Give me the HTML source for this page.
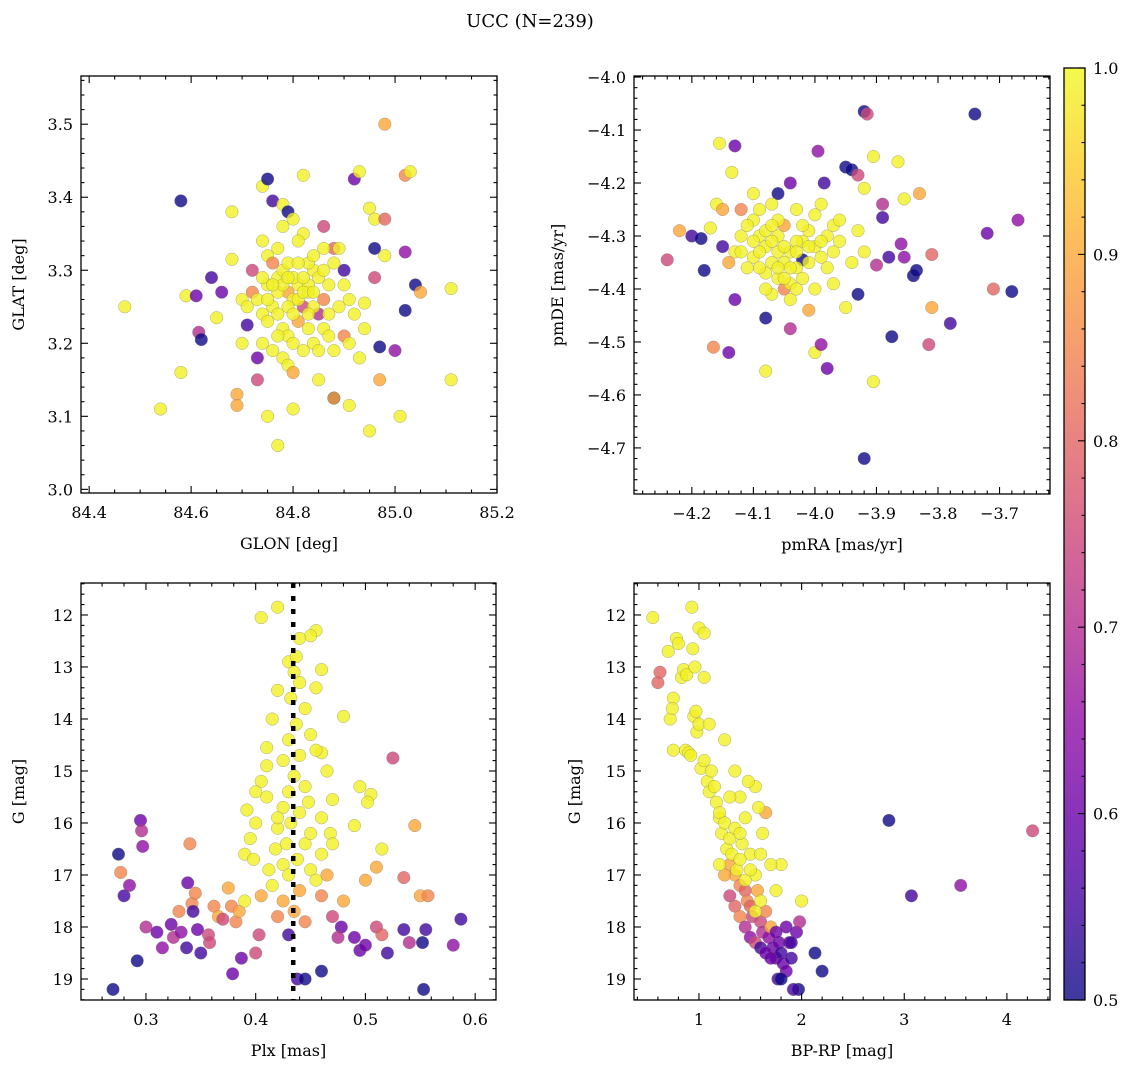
<!DOCTYPE html>
<html><head><meta charset="utf-8">
<style>
html,body{margin:0;padding:0;background:#fff;}
svg{display:block;font-family:"DejaVu Serif","Liberation Serif",serif;}
</style></head>
<body>
<svg id="fig" width="1136" height="1068" viewBox="0 0 1136 1068" xmlns="http://www.w3.org/2000/svg">
<text x="530" y="27" font-size="18" text-anchor="middle">UCC (N=239)</text>
</svg>
<script>
// Panel 1: GLON, GLAT, membership probability
const glonGlat = [
[84.47,3.25,0.99],[84.54,3.11,0.99],[84.58,3.395,0.5],[84.58,3.16,0.99],[84.59,3.265,0.99],[84.61,3.265,0.6],[84.615,3.215,0.7],[84.62,3.205,0.5],[84.64,3.29,0.55],[84.65,3.235,0.99],[84.66,3.27,0.6],[84.68,3.38,0.99],[84.68,3.315,0.99],[84.69,3.13,0.9],[84.69,3.115,0.9],[84.7,3.2,0.99],[84.71,3.225,0.55],[84.72,3.3,0.75],[84.73,3.15,0.75],[84.74,3.415,0.99],[84.75,3.425,0.5],[84.76,3.395,0.55],[84.75,3.1,0.99],[84.77,3.06,0.99],[84.78,3.39,0.99],[84.79,3.38,0.5],[84.8,3.11,0.99],[84.82,3.43,0.99],[84.86,3.36,0.75],[84.88,3.33,0.8],[84.88,3.125,0.5],[84.88,3.125,0.9],[84.91,3.115,0.99],[84.92,3.425,0.6],[84.93,3.435,0.99],[84.95,3.385,0.99],[84.96,3.37,0.99],[84.96,3.33,0.5],[84.96,3.29,0.75],[84.97,3.195,0.5],[84.98,3.5,0.9],[84.98,3.37,0.8],[84.98,3.32,0.99],[84.97,3.15,0.9],[84.95,3.08,0.99],[85.0,3.19,0.65],[85.02,3.325,0.65],[85.02,3.43,0.85],[85.03,3.435,0.99],[85.02,3.245,0.5],[85.04,3.28,0.5],[85.05,3.27,0.9],[85.01,3.1,0.99],[85.11,3.275,0.99],[85.11,3.15,0.99],[84.9,3.3,0.55],[84.91,3.26,0.99],[84.93,3.18,0.99],[84.94,3.22,0.99],[84.94,3.255,0.99],
[84.74,3.34,0.99],[84.75,3.32,0.99],[84.76,3.31,0.85],[84.77,3.29,0.99],[84.78,3.3,0.99],[84.79,3.27,0.9],[84.8,3.26,0.99],[84.81,3.28,0.99],[84.82,3.25,0.75],[84.83,3.27,0.99],[84.84,3.3,0.99],[84.85,3.29,0.99],[84.86,3.26,0.85],[84.87,3.28,0.99],[84.88,3.31,0.99],[84.89,3.33,0.99],[84.76,3.25,0.99],[84.77,3.24,0.99],[84.78,3.22,0.99],[84.79,3.21,0.99],[84.8,3.2,0.99],[84.81,3.23,0.9],[84.83,3.22,0.99],[84.84,3.2,0.99],[84.85,3.24,0.7],[84.87,3.24,0.99],[84.89,3.25,0.99],[84.9,3.28,0.99],[84.72,3.27,0.85],[84.73,3.26,0.99],[84.74,3.24,0.99],[84.75,3.28,0.99],[84.76,3.19,0.99],[84.78,3.18,0.99],[84.79,3.17,0.99],[84.8,3.16,0.9],[84.82,3.35,0.99],[84.81,3.34,0.99],[84.83,3.31,0.99],[84.84,3.32,0.99],[84.86,3.33,0.99],[84.78,3.36,0.99],[84.8,3.37,0.99],[84.77,3.33,0.99],[84.74,3.2,0.99],[84.73,3.18,0.6],[84.82,3.19,0.99],[84.85,3.19,0.99],[84.88,3.19,0.99],[84.9,3.21,0.85],[84.86,3.22,0.99],[84.84,3.25,0.99],[84.8,3.29,0.99],[84.79,3.31,0.99],[84.83,3.28,0.99],[84.7,3.26,0.99],[84.71,3.25,0.99],[84.92,3.24,0.99],[84.91,3.2,0.99],[84.85,3.15,0.99],
[84.77,3.27,0.99],[84.79,3.25,0.99],[84.81,3.26,0.99],[84.82,3.29,0.99],[84.78,3.28,0.99],[84.76,3.28,0.99],[84.8,3.24,0.99],[84.82,3.27,0.99],[84.75,3.26,0.99],[84.84,3.27,0.99],[84.79,3.29,0.99],[84.81,3.31,0.99],[84.74,3.29,0.99],[84.86,3.3,0.99],[84.77,3.21,0.99],[84.83,3.24,0.99],[84.87,3.21,0.99],[84.75,3.23,0.99]
];
// Panel 2: pmRA, pmDE, probability
const pmRaDe = [
[-4.24,-4.345,0.75],[-4.22,-4.29,0.9],[-4.2,-4.3,0.55],[-4.185,-4.305,0.5],[-4.18,-4.365,0.5],[-4.17,-4.285,0.99],[-4.165,-4.51,0.85],[-4.16,-4.24,0.99],[-4.155,-4.125,0.99],[-4.15,-4.32,0.55],[-4.14,-4.52,0.6],[-4.13,-4.13,0.6],[-4.135,-4.18,0.99],[-4.13,-4.42,0.6],[-4.1,-4.22,0.99],[-4.08,-4.455,0.5],[-4.06,-4.22,0.5],[-4.08,-4.555,0.99],[-4.04,-4.2,0.6],[-4.04,-4.475,0.7],[-4.02,-4.345,0.5],[-4.01,-4.44,0.9],[-4.0,-4.52,0.99],[-3.995,-4.14,0.65],[-3.99,-4.505,0.65],[-3.985,-4.2,0.55],[-3.98,-4.55,0.6],[-3.95,-4.17,0.5],[-3.94,-4.175,0.5],[-3.93,-4.185,0.75],[-3.93,-4.41,0.5],[-3.92,-4.065,0.5],[-3.915,-4.07,0.75],[-3.92,-4.21,0.99],[-3.92,-4.72,0.5],[-3.905,-4.15,0.99],[-3.905,-4.575,0.99],[-3.9,-4.355,0.7],[-3.89,-4.265,0.55],[-3.89,-4.24,0.7],[-3.88,-4.34,0.55],[-3.875,-4.49,0.5],[-3.865,-4.16,0.99],[-3.86,-4.315,0.65],[-3.855,-4.34,0.65],[-3.855,-4.23,0.99],[-3.84,-4.375,0.5],[-3.835,-4.365,0.5],[-3.83,-4.22,0.9],[-3.815,-4.505,0.75],[-3.81,-4.435,0.9],[-3.81,-4.335,0.8],[-3.78,-4.465,0.55],[-3.74,-4.07,0.5],[-3.72,-4.295,0.6],[-3.71,-4.4,0.8],[-3.68,-4.405,0.5],[-3.67,-4.27,0.65],[-3.95,-4.435,0.99],[-3.97,-4.39,0.99],[-3.94,-4.35,0.99],[-3.96,-4.31,0.99],[-3.93,-4.29,0.99],[-3.92,-4.33,0.99],[-4.12,-4.25,0.85],[-4.15,-4.25,0.9],
[-4.1,-4.27,0.99],[-4.09,-4.3,0.99],[-4.08,-4.32,0.99],[-4.07,-4.35,0.99],[-4.06,-4.3,0.99],[-4.05,-4.28,0.9],[-4.04,-4.33,0.99],[-4.03,-4.36,0.99],[-4.02,-4.31,0.99],[-4.01,-4.29,0.99],[-4.0,-4.32,0.99],[-3.99,-4.34,0.99],[-3.98,-4.3,0.99],[-3.97,-4.28,0.99],[-4.06,-4.38,0.99],[-4.05,-4.4,0.85],[-4.04,-4.39,0.99],[-4.07,-4.41,0.99],[-4.08,-4.37,0.99],[-4.1,-4.34,0.99],[-4.11,-4.36,0.99],[-4.12,-4.3,0.99],[-4.13,-4.33,0.99],[-4.14,-4.35,0.9],[-4.09,-4.25,0.99],[-4.07,-4.24,0.99],[-4.03,-4.25,0.99],[-4.0,-4.26,0.99],[-3.98,-4.36,0.99],[-4.02,-4.38,0.99],[-3.99,-4.24,0.99],[-4.11,-4.28,0.99],[-4.05,-4.35,0.99],[-4.04,-4.42,0.99],[-4.03,-4.31,0.99],[-4.06,-4.33,0.99],[-4.01,-4.35,0.99],[-4.08,-4.29,0.99],[-3.97,-4.33,0.99],[-4.0,-4.4,0.99],
[-4.07,-4.31,0.99],[-4.05,-4.32,0.99],[-4.03,-4.33,0.99],[-4.09,-4.33,0.99],[-4.06,-4.36,0.99],[-4.02,-4.28,0.99],[-4.08,-4.4,0.99],[-4.04,-4.36,0.99],[-4.1,-4.31,0.99],[-4.01,-4.32,0.99],[-4.06,-4.27,0.99],[-4.12,-4.33,0.99],[-3.99,-4.31,0.99],[-4.05,-4.38,0.99],[-4.07,-4.28,0.99],[-4.03,-4.4,0.99],[-4.09,-4.36,0.99],[-3.96,-4.27,0.99]
];
// Panel 3: Plx, G, probability
const plxG = [
[0.27,19.2,0.5],[0.275,16.6,0.5],[0.277,16.95,0.85],[0.28,17.4,0.55],[0.285,17.2,0.65],[0.292,18.65,0.5],[0.295,15.95,0.6],[0.296,16.15,0.7],[0.297,16.45,0.65],[0.3,18.0,0.7],[0.31,18.1,0.6],[0.315,18.4,0.65],[0.323,17.95,0.6],[0.325,18.2,0.7],[0.332,18.1,0.65],[0.33,17.7,0.85],[0.337,18.4,0.55],[0.338,17.15,0.6],[0.34,16.4,0.85],[0.342,17.55,0.85],[0.343,17.7,0.55],[0.345,17.35,0.85],[0.347,18.05,0.6],[0.35,18.5,0.55],[0.357,18.15,0.75],[0.358,18.3,0.75],[0.362,17.6,0.85],[0.366,17.8,0.9],[0.37,17.85,0.75],[0.375,17.25,0.9],[0.378,17.6,0.85],[0.379,18.9,0.6],[0.382,17.9,0.85],[0.385,17.7,0.9],[0.387,18.6,0.6],[0.39,16.6,0.99],[0.39,17.5,0.99],[0.392,15.75,0.99],[0.395,16.3,0.99],[0.398,16.7,0.99],[0.4,18.5,0.75],[0.403,18.15,0.75],[0.405,12.05,0.99],[0.41,14.55,0.99],[0.42,11.85,0.99],[0.43,18.15,0.55],[0.438,19.0,0.55],[0.445,19.0,0.5],[0.455,12.3,0.99],[0.45,12.4,0.99],[0.46,18.85,0.5],[0.478,18.0,0.6],[0.475,18.2,0.7],[0.49,18.2,0.6],[0.495,18.45,0.6],[0.49,16.05,0.99],[0.5,18.35,0.6],[0.51,18.0,0.75],[0.515,18.15,0.8],[0.52,18.5,0.55],[0.525,14.75,0.75],[0.535,17.05,0.8],[0.535,18.05,0.55],[0.54,18.3,0.7],[0.545,16.05,0.9],[0.55,17.4,0.9],[0.552,18.3,0.5],[0.553,19.2,0.5],[0.555,18.05,0.55],[0.557,17.4,0.85],[0.58,18.35,0.65],[0.587,17.85,0.55],[0.51,16.85,0.9],[0.5,17.1,0.9],[0.48,17.5,0.9],[0.47,17.8,0.75],[0.46,17.4,0.85],[0.47,15.55,0.99],[0.48,13.95,0.99],[0.515,16.5,0.99],[0.505,15.45,0.99],[0.502,15.6,0.99],[0.495,15.3,0.99],[0.468,16.2,0.99],[0.465,15.0,0.99],[0.46,14.65,0.99],[0.455,14.6,0.99],[0.455,13.4,0.99],[0.46,13.05,0.99],[0.42,13.45,0.99],[0.415,14.0,0.99],[0.41,14.9,0.99],[0.405,15.2,0.99],[0.4,16.0,0.99],[0.42,16.1,0.99],[0.425,16.8,0.99],[0.42,17.8,0.85],[0.425,17.5,0.9],
[0.43,12.9,0.99],[0.435,13.1,0.99],[0.432,13.6,0.99],[0.44,13.3,0.99],[0.437,14.1,0.99],[0.43,14.4,0.99],[0.44,14.7,0.99],[0.435,15.1,0.99],[0.43,15.4,0.99],[0.445,15.3,0.99],[0.44,15.8,0.99],[0.432,16.0,0.99],[0.445,16.4,0.99],[0.438,16.7,0.99],[0.43,17.0,0.99],[0.44,17.3,0.9],[0.435,17.7,0.9],[0.445,17.9,0.85],[0.45,16.9,0.99],[0.448,15.6,0.99],[0.45,14.3,0.99],[0.445,13.8,0.99],[0.425,14.8,0.99],[0.425,15.7,0.99],[0.42,15.9,0.99],[0.428,16.4,0.99],[0.44,12.45,0.99],[0.437,12.8,0.99],[0.45,16.2,0.99],[0.455,17.1,0.99],[0.415,17.2,0.99],[0.418,16.5,0.99],[0.41,15.5,0.99],[0.46,15.9,0.99],[0.46,16.6,0.99],[0.465,17.0,0.9],[0.47,16.4,0.99],[0.412,16.9,0.99],[0.405,17.4,0.9],[0.4,15.4,0.99]
];
// Panel 4: BP-RP, G, probability
const colorMag = [
[2.85,15.95,0.5],[3.07,17.4,0.55],[3.55,17.2,0.65],[4.25,16.15,0.75],
[0.55,12.05,0.99],[0.6,13.3,0.8],[0.62,13.1,0.8],[0.7,12.7,0.99],[0.72,14.0,0.99],[0.75,13.6,0.99],[0.74,13.8,0.99],[0.75,14.6,0.99],[0.78,12.45,0.99],[0.8,12.55,0.99],[0.83,13.2,0.99],[0.85,13.05,0.99],[0.87,14.6,0.99],[0.88,13.15,0.99],[0.9,14.65,0.99],[0.92,14.7,0.99],[0.93,11.85,0.99],[0.94,12.65,0.99],[0.95,13.95,0.99],[0.96,13.0,0.99],[0.97,13.85,0.99],[0.98,14.25,0.99],[1.0,12.25,0.99],[1.05,12.35,0.99],[1.0,14.1,0.99],[1.05,13.2,0.99],[1.02,14.95,0.99],[1.05,14.8,0.99],[1.08,15.2,0.99],[1.1,15.4,0.99],[1.12,15.0,0.99],[1.15,15.3,0.99],[1.17,15.6,0.99],[1.2,15.9,0.99],[1.2,15.8,0.99],[1.22,16.2,0.99],[1.25,16.0,0.99],[1.27,16.5,0.99],[1.3,16.3,0.99],[1.3,16.8,0.9],[1.32,16.6,0.99],[1.35,17.0,0.9],[1.37,16.9,0.99],[1.4,17.2,0.85],[1.42,16.4,0.99],[1.45,17.3,0.8],[1.47,17.5,0.85],[1.5,16.6,0.99],[1.5,17.6,0.8],[1.52,17.8,0.75],[1.55,17.0,0.99],[1.57,17.3,0.9],[1.6,17.9,0.75],[1.62,18.1,0.7],[1.65,17.7,0.85],[1.68,18.2,0.65],[1.7,18.0,0.9],[1.72,18.4,0.6],[1.75,18.6,0.55],[1.78,18.3,0.6],[1.8,18.5,0.55],[1.82,18.7,0.6],[1.85,18.85,0.6],[1.88,18.3,0.6],[1.9,18.6,0.55],[1.95,18.1,0.6],[1.97,19.2,0.5],[1.92,19.2,0.55],[1.77,19.0,0.55],[1.8,19.0,0.5],[2.2,18.85,0.5],[2.13,18.5,0.5],[2.0,17.5,0.99],[1.98,17.9,0.7],[1.75,17.3,0.99],[1.8,16.8,0.99],[1.7,16.8,0.99],[1.62,16.2,0.99],[1.65,15.8,0.9],[1.55,15.3,0.99],[1.25,14.4,0.99],[1.1,14.1,0.99],[1.35,15.0,0.99],[1.4,15.5,0.99],[1.45,15.9,0.99],[1.3,15.5,0.99],[1.35,16.1,0.99],[1.4,16.7,0.99],[1.25,17.0,0.9],[1.2,16.8,0.99],[1.3,17.4,0.75],[1.35,17.6,0.8],[1.4,17.8,0.85],[1.45,18.0,0.7],[1.5,18.2,0.65],[1.55,18.3,0.75],[1.6,18.4,0.55],[1.65,18.5,0.6],[1.7,18.6,0.6],[1.75,18.1,0.6],[1.85,18.0,0.6],[1.9,18.3,0.55],[1.6,17.5,0.99],[1.55,17.7,0.99],[1.45,17.1,0.99],[1.5,16.9,0.99],[1.6,16.6,0.99],[1.4,16.2,0.99],[1.58,15.7,0.99],[1.48,15.2,0.99]
];
const plxLine = 0.4342;
const cbarTicks = [0.5,0.6,0.7,0.8,0.9,1.0];

const NS = "http://www.w3.org/2000/svg";
const svg = document.getElementById('fig');
function mk(tag, attrs, parent){
  const e = document.createElementNS(NS, tag);
  for (const k in attrs) e.setAttribute(k, attrs[k]);
  (parent||svg).appendChild(e);
  return e;
}
const stops = ["#0d0887","#41049d","#6a00a8","#8f0da4","#b12a90","#cc4778","#e16462","#f2844b","#fca636","#fcce25","#f0f921"];
function hex(h){return [parseInt(h.substr(1,2),16),parseInt(h.substr(3,2),16),parseInt(h.substr(5,2),16)];}
function plasma(t){
  t=Math.max(0,Math.min(1,t)); const f=t*10, i=Math.min(9,Math.floor(f)), r=f-i;
  const a=hex(stops[i]), b=hex(stops[i+1]);
  return 'rgb('+a.map((v,k)=>Math.round(v+(b[k]-v)*r)).join(',')+')';
}
function cmap(p){return plasma((p-0.5)/0.5);}
function fmt(v,d){const s=v.toFixed(d); return v<0? '\u2212'+s.substr(1): s;}

function panel(cfg){
  const g = mk('g',{});
  
  
  const {L,R,T,B,x0,x1,y0,y1} = cfg;
  const sx = v => L + (v-x0)/(x1-x0)*(R-L);
  const sy = v => T + (v-y0)/(y1-y0)*(B-T);
  const pg = mk('g',{},g);
  
  
  cfg.data.forEach(d=>{
    const c = mk('circle',{cx:sx(d[0]).toFixed(1),cy:sy(d[1]).toFixed(1),r:6.3,fill:cmap(d[2]),'fill-opacity':0.8,stroke:'#777','stroke-width':0.5,'stroke-opacity':0.6},pg);
    
    
  });
  if (cfg.vline!==undefined){
    const l = mk('line',{x1:sx(cfg.vline),x2:sx(cfg.vline),y1:T,y2:B,stroke:'#000','stroke-width':4.5,'stroke-dasharray':'5 8'},g);
    
    
  }
  const fr = mk('rect',{x:L,y:T,width:R-L,height:B-T,fill:'none',stroke:'#000','stroke-width':1.3},g);
  
  
  const tg = mk('g',{stroke:'#000','stroke-width':1.1},g);
  const lo=Math.min(x0,x1), hi=Math.max(x0,x1);
  for (let k=Math.ceil(lo/cfg.xmin-1e-6); k*cfg.xmin<=hi+1e-9; k++){
    const v=k*cfg.xmin, X=sx(v);
    const major = Math.abs(v/cfg.xmaj - Math.round(v/cfg.xmaj))<1e-6;
    const len = major?7:3.5;
    mk('line',{x1:X,x2:X,y1:B,y2:B-len},tg); mk('line',{x1:X,x2:X,y1:T,y2:T+len},tg);
  }
  const ylo=Math.min(y0,y1), yhi=Math.max(y0,y1);
  for (let k=Math.ceil(ylo/cfg.ymin-1e-6); k*cfg.ymin<=yhi+1e-9; k++){
    const v=k*cfg.ymin, Y=sy(v);
    const major = Math.abs(v/cfg.ymaj - Math.round(v/cfg.ymaj))<1e-6;
    const len = major?7:3.5;
    mk('line',{x1:L,x2:L+len,y1:Y,y2:Y},tg); mk('line',{x1:R,x2:R-len,y1:Y,y2:Y},tg);
  }
  cfg.xt.forEach(v=>{
    const t = mk('text',{x:sx(v),y:B+25,'font-size':16,'text-anchor':'middle'},g);
    t.textContent = fmt(v,cfg.xd);
    
    
  });
  cfg.yt.forEach(v=>{
    const t = mk('text',{x:L-8,y:sy(v)+6,'font-size':16,'text-anchor':'end'},g);
    t.textContent = fmt(v,cfg.yd);
    
    
  });
  const xl = mk('text',{x:(L+R)/2,y:B+56,'font-size':16,'text-anchor':'middle'},g);
  xl.textContent = cfg.xlabel;
  
  
  const yx = cfg.ylx, yy=(T+B)/2;
  const yl = mk('text',{x:yx,y:yy,'font-size':16,'text-anchor':'middle',transform:'rotate(-90 '+yx+' '+yy+')'},g);
  yl.textContent = cfg.ylabel;
  
  
}

panel({name:'glon-glat-panel',data:glonGlat,L:81,R:497,T:76,B:493,x0:84.384,x1:85.2,y0:3.566,y1:2.995,
  xmin:0.05,xmaj:0.2,ymin:0.02,ymaj:0.1,xt:[84.4,84.6,84.8,85.0,85.2],yt:[3.0,3.1,3.2,3.3,3.4,3.5],xd:1,yd:1,
  xlabel:'GLON [deg]',ylabel:'GLAT [deg]',ylx:24});
panel({name:'proper-motion-panel',data:pmRaDe,L:634,R:1050,T:76,B:494,x0:-4.294,x1:-3.618,y0:-3.998,y1:-4.787,
  xmin:0.02,xmaj:0.1,ymin:0.02,ymaj:0.1,xt:[-4.2,-4.1,-4.0,-3.9,-3.8,-3.7],yt:[-4.0,-4.1,-4.2,-4.3,-4.4,-4.5,-4.6,-4.7],xd:1,yd:1,
  xlabel:'pmRA [mas/yr]',ylabel:'pmDE [mas/yr]',ylx:563});
panel({name:'parallax-magnitude-panel',data:plxG,vline:plxLine,L:81,R:496,T:583,B:1000,x0:0.2408,x1:0.619,y0:11.385,y1:19.404,
  xmin:0.02,xmaj:0.1,ymin:0.2,ymaj:1,xt:[0.3,0.4,0.5,0.6],yt:[12,13,14,15,16,17,18,19],xd:1,yd:0,
  xlabel:'Plx [mas]',ylabel:'G [mag]',ylx:24});
panel({name:'color-magnitude-panel',data:colorMag,L:634,R:1050,T:583,B:1000,x0:0.367,x1:4.42,y0:11.385,y1:19.404,
  xmin:0.2,xmaj:1,ymin:0.2,ymaj:1,xt:[1,2,3,4],yt:[12,13,14,15,16,17,18,19],xd:0,yd:0,
  xlabel:'BP-RP [mag]',ylabel:'G [mag]',ylx:580});

const cb = mk('g',{});


const defs = mk('defs',{},cb);
const lg = mk('linearGradient',{id:'pg',x1:0,y1:1,x2:0,y2:0},defs);
for (let i=0;i<=20;i++){ mk('stop',{offset:(i/20),'stop-color':plasma(i/20),'stop-opacity':0.8},lg); }
const CT=68, CB=1000, CL=1064, CR=1085;
mk('rect',{x:CL,y:CT,width:CR-CL,height:CB-CT,fill:'url(#pg)',stroke:'#000','stroke-width':1.3},cb);
const cy = v => CB - (v-0.5)/0.5*(CB-CT);
for (let k=50;k<=100;k+=2){
  const v=k/100, Y=cy(v), major=(k%10===0);
  mk('line',{x1:CR,x2:CR-(major?7:3.5),y1:Y,y2:Y,stroke:'#000','stroke-width':1.1},cb);
}
cbarTicks.forEach(v=>{
  const t = mk('text',{x:CR+8,y:cy(v)+6,'font-size':16},cb);
  t.textContent = v.toFixed(1);
  
  
});
</script>
</body></html>
